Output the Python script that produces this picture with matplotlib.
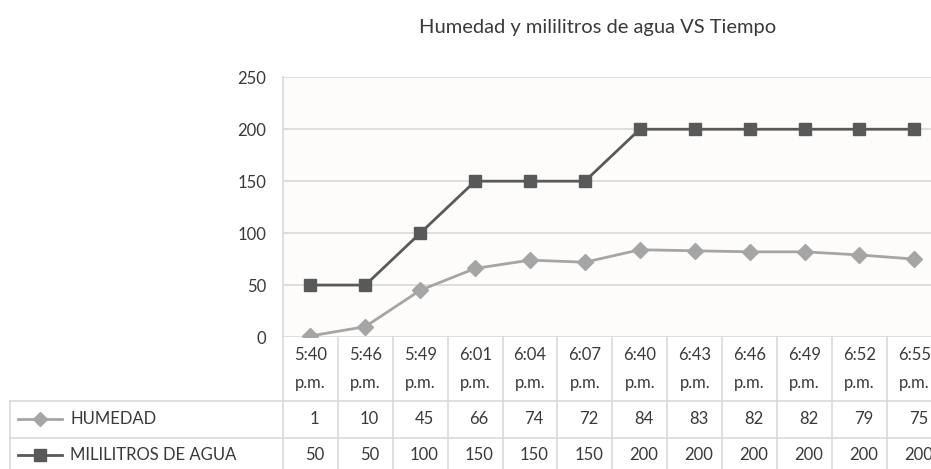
import matplotlib
matplotlib.use("Agg")
import matplotlib.pyplot as plt
from matplotlib.lines import Line2D
from matplotlib.transforms import blended_transform_factory, offset_copy

# Data
times = ["5:40", "5:46", "5:49", "6:01", "6:04", "6:07",
         "6:40", "6:43", "6:46", "6:49", "6:52", "6:55"]
period = "p.m."
humedad = [1, 10, 45, 66, 74, 72, 84, 83, 82, 82, 79, 75]
mililitros = [50, 50, 100, 150, 150, 150, 200, 200, 200, 200, 200, 200]
series_names = ["HUMEDAD", "MILILITROS DE AGUA"]
title = "Humedad y mililitros de agua VS Tiempo"
y_ticks = [0, 50, 100, 150, 200, 250]

plt.rcParams["font.family"] = ["Lato", "DejaVu Sans"]

W, H = 931, 469
fig = plt.figure(figsize=(W / 100, H / 100), dpi=100)
fig.patch.set_facecolor("white")


def fx(px):
    return px / W


def fy(py):
    return 1 - py / H


TEXT = "#3a3a3a"
GRID = "#d9d9d9"
C_HUM = "#a5a5a5"
C_MIL = "#595959"
FS = 12

# Plot area (wider than the canvas: the last column is cut at the right edge)
ax = fig.add_axes([fx(283), fy(337), (941.8 - 283) / W, (337 - 77.3) / H])
ax.set_facecolor("#fdfcfa")
xs = list(range(len(times)))
ax.plot(xs, humedad, color=C_HUM, lw=2, marker="D", ms=8, zorder=3)
ax.plot(xs, mililitros, color=C_MIL, lw=2, marker="s", ms=8.5, zorder=4)
ax.set_xlim(-0.5, len(times) - 0.5)
ax.set_ylim(y_ticks[0], y_ticks[-1])
ax.set_yticks(y_ticks)
ax.set_xticks([])
ax.grid(axis="y", color=GRID, lw=1.2)
ax.set_axisbelow(True)
for s in ["top", "right", "bottom"]:
    ax.spines[s].set_visible(False)
ax.spines["left"].set_color(GRID)
ax.spines["left"].set_linewidth(1.2)
ax.tick_params(axis="y", length=0, pad=12, labelsize=FS, labelcolor=TEXT)

# Title
fig.text(fx(598), fy(27), title, ha="center", va="center", fontsize=14.5, color=TEXT)

# Data table below the plot
tr = blended_transform_factory(ax.transData, fig.transFigure)
n = len(times)
y_plot_bottom, y_row1, y_row2, y_bottom = fy(337), fy(401), fy(438), fy(469)

# vertical separators between the columns
for i in range(n + 1):
    xb = i - 0.5
    fig.add_artist(Line2D([xb, xb], [y_plot_bottom, y_bottom], transform=tr,
                          color=GRID, lw=1.2, clip_on=False))
# horizontal rules of the series rows
for yy in (y_row1, y_row2):
    fig.add_artist(Line2D([fx(10), fx(W)], [yy, yy], transform=fig.transFigure,
                          color=GRID, lw=1.2))
fig.add_artist(Line2D([fx(10), fx(10)], [y_row1, y_bottom], transform=fig.transFigure,
                      color=GRID, lw=1.2))

# header: times
for i, t in enumerate(times):
    ax.text(i, fy(355), t, transform=tr, ha="center", va="center",
            fontsize=FS, color=TEXT, clip_on=False)
    ax.text(i, fy(383), period, transform=tr, ha="center", va="center",
            fontsize=FS, color=TEXT, clip_on=False)

# series rows
tr_num = offset_copy(tr, fig=fig, x=4, y=0, units="dots")
for row_y, vals in ((fy(419), humedad), (fy(455), mililitros)):
    for i, v in enumerate(vals):
        ax.text(i, row_y, str(v), transform=tr_num, ha="center", va="center",
                fontsize=FS, color=TEXT, clip_on=False)

# legend keys inside the table
for row_y, name, col, mk, ms in ((fy(419), series_names[0], C_HUM, "D", 7),
                                 (fy(455), series_names[1], C_MIL, "s", 8)):
    fig.add_artist(Line2D([fx(18), fx(62)], [row_y, row_y], transform=fig.transFigure,
                          color=col, lw=2))
    fig.add_artist(Line2D([fx(40)], [row_y], transform=fig.transFigure,
                          color=col, marker=mk, ms=ms, lw=0))
    fig.text(fx(70), row_y, name, ha="left", va="center", fontsize=FS, color=TEXT)

fig.savefig("out.png", dpi=100, facecolor="white")
